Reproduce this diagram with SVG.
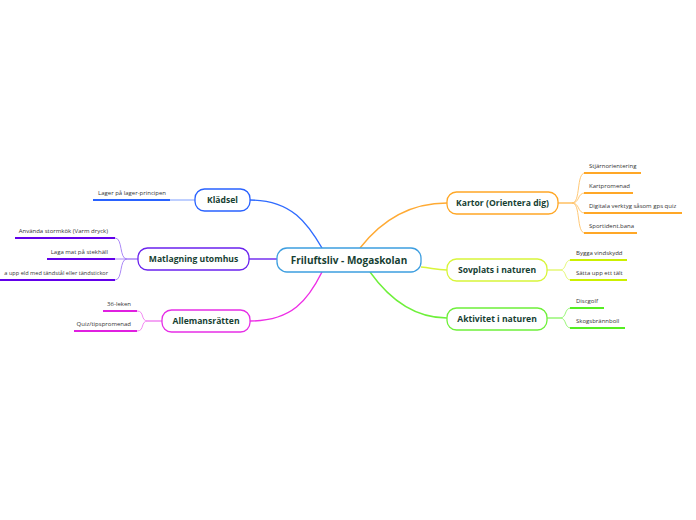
<svg xmlns="http://www.w3.org/2000/svg" width="696" height="520" viewBox="0 0 696 520">
<style>
.node{fill:#fff;stroke-width:1.3}
.lbl{font-family:"Open Sans","Noto Sans",sans-serif;font-weight:bold;font-size:8.6px;fill:#173f33;text-anchor:middle}
.ctr{font-size:10px}
.sub{font-family:"Open Sans","Noto Sans",sans-serif;font-size:6px;fill:#333}
.r{text-anchor:end}
.c{fill:none;stroke-width:1.4}
.f{fill:none;stroke-width:0.9}
.u{fill:none;stroke-width:2}
</style>
<rect width="696" height="520" fill="#fff"/>
<g id="connectors">
  <path class="c" stroke="#2f6bff" d="M250,200 C292,200 308,224 322,248"/>
  <path class="c" stroke="#6a22ee" d="M248,259 L277,259"/>
  <path class="c" stroke="#ee2ee6" d="M250,321 C292,321 308,300 322,272"/>
  <path class="c" stroke="#ffaa33" d="M360,248 C385,216 415,203 447,203"/>
  <path class="c" stroke="#d8f53a" d="M421,267 C432,268 436,270 447,270"/>
  <path class="c" stroke="#6ef03a" d="M370,272 C390,300 415,318 447,318"/>
  <path class="f" stroke="#6f94ff" d="M195,200 L170,200"/>
  <path class="u" stroke="#2962ff" d="M93,200 L170,200"/>
  <path class="c" stroke="#a27af5" d="M138,259 L127,259"/>
  <path class="f" stroke="#a27af5" d="M127,259 C119,259 123,238 115,238 M127,259 L115,259 M127,259 C119,259 123,280 115,280"/>
  <path class="u" stroke="#6200ea" d="M15,238 L115,238 M47,259 L115,259 M0,280 L115,280"/>
  <path class="c" stroke="#f07ef0" d="M162,321 L148,321"/>
  <path class="f" stroke="#f07ef0" d="M148,321 C140,321 145,311 137,311 M148,321 C140,321 145,331 137,331"/>
  <path class="u" stroke="#e020e0" d="M103,311 L137,311 M74,331 L137,331"/>
  <path class="c" stroke="#ffbb55" d="M558,203 L572,203"/>
  <path class="f" stroke="#ffc266" d="M572,203 C581,203 576,173 585,173 M572,203 C580,203 577,193 585,193 M572,203 C580,203 577,213 585,213 M572,203 C581,203 576,233 585,233"/>
  <path class="u" stroke="#ffa726" d="M584,173 L641,173 M584,193 L633,193 M584,213 L682,213 M584,233 L637,233"/>
  <path class="c" stroke="#e2f76a" d="M547,270 L560,270"/>
  <path class="f" stroke="#e2f76a" d="M560,270 C567,270 564,260 571,260 M560,270 C567,270 564,280 571,280"/>
  <path class="u" stroke="#ccf000" d="M570,260 L627,260 M570,280 L627,280"/>
  <path class="c" stroke="#8ff56a" d="M547,318 L560,318"/>
  <path class="f" stroke="#8ff56a" d="M560,318 C567,318 564,308 571,308 M560,318 C567,318 564,328 571,328"/>
  <path class="u" stroke="#55ee22" d="M570,308 L604,308 M570,328 L625,328"/>
</g>
<g id="central">
  <rect class="node" x="277" y="248" width="144" height="24" rx="10" stroke="#3d9ee0"/>
  <text class="lbl ctr" x="349" y="263.5">Friluftsliv - Mogaskolan</text>
</g>
<g id="kladsel">
  <rect class="node" x="195" y="189" width="55" height="22" rx="9.5" stroke="#2962ff"/>
  <text class="lbl" x="222.5" y="203">Klädsel</text>
  <text class="sub r" x="166" y="195">Lager på lager-principen</text>
</g>
<g id="matlagning">
  <rect class="node" x="138" y="248" width="111" height="22" rx="9.5" stroke="#6a22ee"/>
  <text class="lbl" x="193.5" y="262">Matlagning utomhus</text>
  <text class="sub r" x="108" y="233">Använda stormkök (Varm dryck)</text>
  <text class="sub r" x="108" y="254">Laga mat på stekhäll</text>
  <text class="sub r" x="108" y="275" style="font-size:5.6px">a upp eld med tändstål eller tändstickor</text>
</g>
<g id="allemansratten">
  <rect class="node" x="162" y="310" width="88" height="22" rx="9.5" stroke="#e62ee6"/>
  <text class="lbl" x="206" y="324">Allemansrätten</text>
  <text class="sub r" x="131" y="306">36-leken</text>
  <text class="sub r" x="131" y="326">Quiz/tipspromenad</text>
</g>
<g id="kartor">
  <rect class="node" x="447" y="192" width="111" height="22" rx="9.5" stroke="#ffa726"/>
  <text class="lbl" x="502.5" y="206">Kartor (Orientera dig)</text>
  <text class="sub" x="589" y="168">Stjärnorientering</text>
  <text class="sub" x="589" y="188">Kartpromenad</text>
  <text class="sub" x="589" y="208">Digitala verktyg såsom gps quiz</text>
  <text class="sub" x="589" y="228">Sportident.bana</text>
</g>
<g id="sovplats">
  <rect class="node" x="447" y="259" width="100" height="22" rx="9.5" stroke="#d8f53a"/>
  <text class="lbl" x="497" y="273">Sovplats i naturen</text>
  <text class="sub" x="576" y="255">Bygga vindskydd</text>
  <text class="sub" x="576" y="275">Sätta upp ett tält</text>
</g>
<g id="aktivitet">
  <rect class="node" x="447" y="308" width="100" height="22" rx="9.5" stroke="#6ef03a"/>
  <text class="lbl" x="497" y="322">Aktivitet i naturen</text>
  <text class="sub" x="576" y="303">Discgolf</text>
  <text class="sub" x="576" y="323">Skogsbrännboll</text>
</g>
</svg>
